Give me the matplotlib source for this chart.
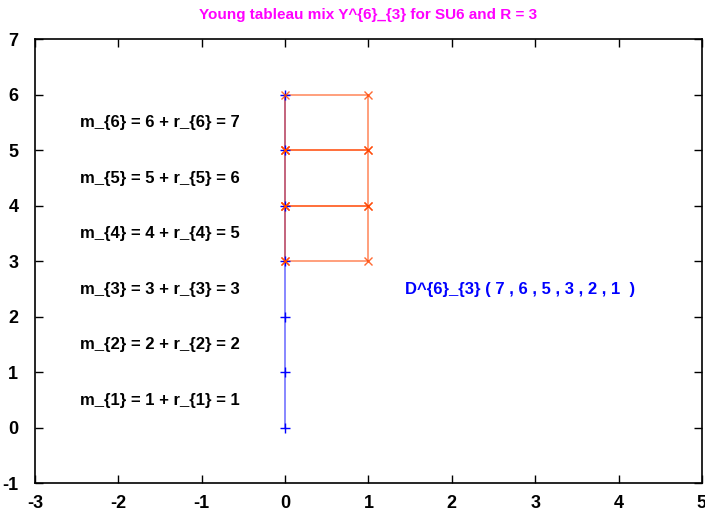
import matplotlib
matplotlib.use('Agg')
import matplotlib.pyplot as plt
import numpy as np

# data
stem_x = [0, 0, 0, 0, 0, 0, 0]
stem_y = [0, 1, 2, 3, 4, 5, 6]
box_rows = [3, 4, 5]          # bottom edge of each unit box at x in [0, 1]
m_values = [1, 2, 3, 4, 5, 6]
r_values = [1, 2, 3, 5, 6, 7]
partition = [7, 6, 5, 3, 2, 1]

plt.rcParams['font.family'] = ['Liberation Sans Narrow', 'Liberation Sans', 'DejaVu Sans']
plt.rcParams['axes.unicode_minus'] = False

fig = plt.figure(figsize=(7.05, 5.12), dpi=100)
ax = fig.add_axes([0.0496, 0.0557, 0.946, 0.8672])

# blue column
ax.plot(stem_x, stem_y, color='blue', alpha=0.55, lw=1.2, zorder=2)
ax.plot(stem_x, stem_y, ls='none', marker='+', ms=7, mew=1.0, color='blue', zorder=3)

# orange boxes
for y in box_rows:
    bx = [0, 1, 1, 0, 0]
    by = [y, y, y + 1, y + 1, y]
    ax.plot(bx, by, color='#ff4500', alpha=0.6, lw=1.2, zorder=2)
    ax.plot(bx, by, ls='none', marker='x', ms=6, mew=1.0, color='#ff4500', alpha=0.8, zorder=3)

# labels
for m, r in zip(m_values, r_values):
    ax.text(-2.46, m - 0.5, 'm_{%d} = %d + r_{%d} = %d' % (m, m, m, r),
            fontsize=12, fontweight='bold', va='center', ha='left')

ax.text(1.44, 2.5, 'D^{6}_{3} ( ' + ' , '.join(str(p) for p in partition) + '  )',
        fontsize=12, fontweight='bold', color='blue', va='center', ha='left')

ax.set_xlim(-3, 5)
ax.set_ylim(-1, 7)
ax.set_xticks(range(-3, 6))
ax.set_yticks(range(-1, 8))
ax.tick_params(direction='in', top=True, right=True, length=6, width=1, labelsize=13)
ax.tick_params(axis='x', pad=8)
ax.tick_params(axis='y', pad=12)
for lab in ax.get_xticklabels() + ax.get_yticklabels():
    lab.set_fontweight('bold')
for s in ax.spines.values():
    s.set_linewidth(1.2)

fig.text(0.522, 0.970, 'Young tableau mix Y^{6}_{3} for SU6 and R = 3', color='magenta',
         fontsize=11, fontweight='bold', ha='center', va='center')

fig.savefig('out.png', dpi=100)
